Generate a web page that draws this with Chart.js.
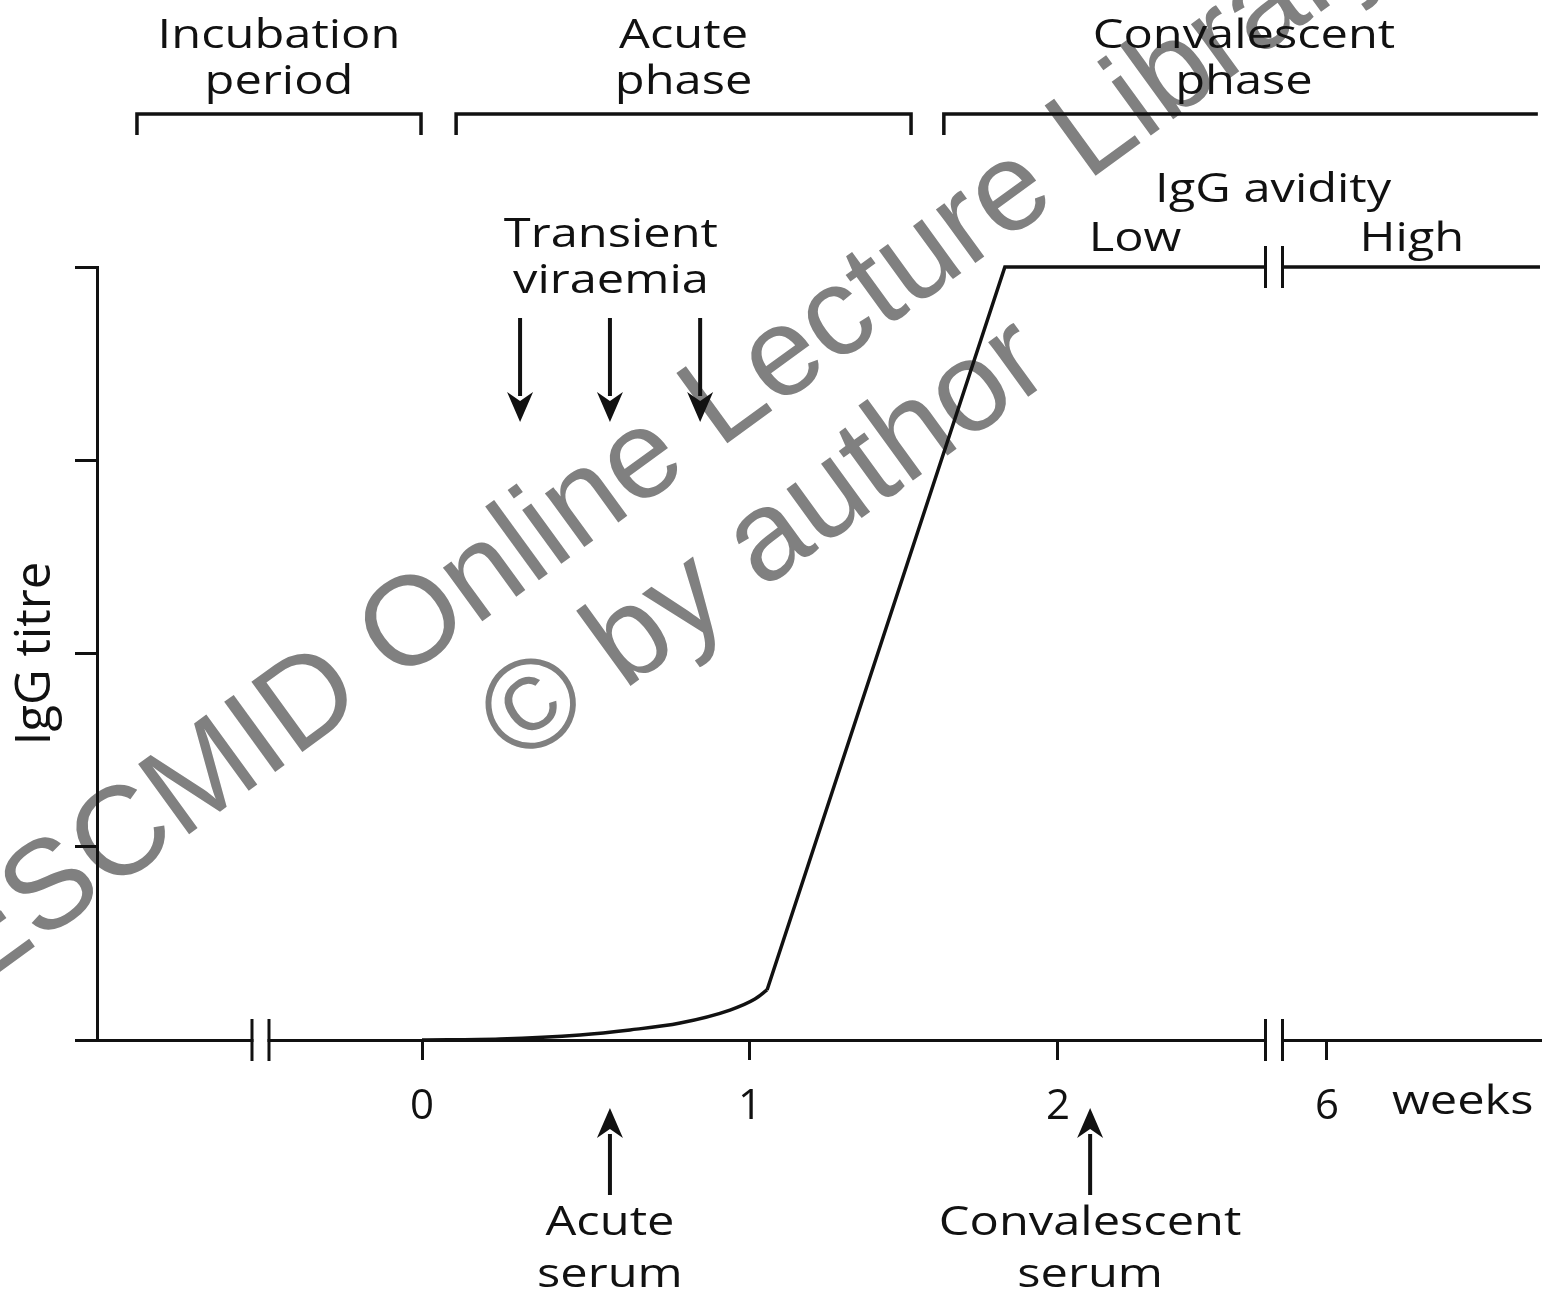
<!DOCTYPE html>
<html>
<head>
<meta charset="utf-8">
<script src="https://cdn.jsdelivr.net/npm/chart.js@4.4.1/dist/chart.umd.min.js"></script>
<style>
  html, body { margin: 0; padding: 0; background: #fff; }
  #wrap { width: 1552px; height: 1303px; }
</style>
</head>
<body>
<div id="wrap"><canvas id="c" width="1552" height="1303"></canvas></div>
<script>
// ---------------- data ----------------
// x axis is in schematic "axis units" (broken time axis); labels are weeks
const xTickPos    = [0, 1, 1.939, 2.759];
const xTickLabels = ['0', '1', '2', '6'];
const xUnitLabel  = 'weeks';
const yTicks      = [0, 1, 2, 3, 4];
const yTitle      = 'IgG titre';

// IgG titre curve: slow rise, then steep linear rise, then plateau
const riseX  = [0, 0.238, 0.482, 0.634, 0.787, 0.939, 1.015, 1.052];
const riseY  = [0, 0.005, 0.026, 0.052, 0.088, 0.155, 0.212, 0.259];
const steepX = [1.052, 1.777, 3.4085];
const steepY = [0.259, 4.0, 4.0];

// phases (brackets on top)
const phaseLabels = [['Incubation', 'period'], ['Acute', 'phase'], ['Convalescent', 'phase']];
const phaseStart  = [-0.869, 0.104, 1.591];
const phaseEnd    = [-0.003, 1.491, 3.402];
const phaseOpenEnd = [false, false, true];

// transient viraemia arrows
const viraemiaLabel  = ['Transient', 'viraemia'];
const viraemiaArrows = [0.299, 0.573, 0.848];

// serum samples (arrows up)
const serumLabels = [['Acute', 'serum'], ['Convalescent', 'serum']];
const serumX      = [0.573, 2.037];

// avidity
const avidityTitle  = 'IgG avidity';
const avidityLabels = ['Low', 'High'];
const avidityX      = [2.174, 3.018];
const avidityTitleX = 2.595;
const viraemiaLabelX = 0.576;

// axis breaks
const axisBreaks = [-0.4924, 2.5976];
const plateauBreaks = [2.5976];

const watermark = ['ESCMID Online Lecture Library', '\u00A9 by author'];

// ---------------- drawing helpers ----------------
const FONT = '"Open Sans", "DejaVu Sans", sans-serif';
const SX = 1.22;
function txt(ctx, s, x, y, size, align) {
  ctx.save();
  ctx.translate(x, y);
  ctx.scale(SX, 1);
  ctx.font = size + 'px ' + FONT;
  ctx.fillStyle = '#111';
  ctx.textAlign = align || 'center';
  ctx.textBaseline = 'alphabetic';
  ctx.fillText(s, 0, 0);
  ctx.restore();
}
function line(ctx, x1, y1, x2, y2, w) {
  ctx.beginPath();
  ctx.moveTo(x1, y1); ctx.lineTo(x2, y2);
  ctx.lineWidth = w || 3;
  ctx.strokeStyle = '#111';
  ctx.lineCap = 'butt';
  ctx.stroke();
}
function arrow(ctx, x, yTail, yTip) {
  const dir = yTip > yTail ? 1 : -1;
  const headLen = 30, headW = 13;
  line(ctx, x, yTail, x, yTip - dir * (headLen - 4), 4);
  ctx.beginPath();
  ctx.moveTo(x, yTip);
  ctx.lineTo(x - headW, yTip - dir * headLen);
  ctx.lineTo(x, yTip - dir * (headLen - 9));
  ctx.lineTo(x + headW, yTip - dir * headLen);
  ctx.closePath();
  ctx.fillStyle = '#111';
  ctx.fill();
}
function breakMark(ctx, xc, yc, halfH) {
  ctx.fillStyle = '#fff';
  ctx.fillRect(xc - 7, yc - 4, 14, 8);
  line(ctx, xc - 8.5, yc - halfH, xc - 8.5, yc + halfH, 3);
  line(ctx, xc + 8.5, yc - halfH, xc + 8.5, yc + halfH, 3);
}

const bgPlugin = {
  id: 'bg',
  beforeDraw(chart) {
    const ctx = chart.ctx;
    ctx.save();
    ctx.fillStyle = '#fff';
    ctx.fillRect(0, 0, chart.width, chart.height);
    // watermark
    ctx.fillStyle = '#808080';
    ctx.textAlign = 'center';
    ctx.textBaseline = 'alphabetic';
    const ang = -36 * Math.PI / 180;
    const centers = [[685, 474], [787, 572]];
    const sizes = [126, 128];
    watermark.forEach((s, i) => {
      ctx.save();
      ctx.font = sizes[i] + 'px "Liberation Sans", Arial, sans-serif';
      ctx.translate(centers[i][0], centers[i][1]);
      ctx.rotate(ang);
      ctx.fillText(s, 0, 0);
      ctx.restore();
    });
    ctx.restore();
  }
};

const annotPlugin = {
  id: 'annot',
  afterDraw(chart) {
    const ctx = chart.ctx;
    const xs = chart.scales.x, ys = chart.scales.y;
    const px = v => xs.getPixelForValue(v);
    ctx.save();

    // phase brackets
    const by = 114, bd = 135;
    phaseLabels.forEach((lab, i) => {
      const a = px(phaseStart[i]), b = px(phaseEnd[i]);
      ctx.beginPath();
      ctx.moveTo(a, bd); ctx.lineTo(a, by); ctx.lineTo(b, by);
      if (!phaseOpenEnd[i]) ctx.lineTo(b, bd);
      ctx.lineWidth = 3.5; ctx.strokeStyle = '#111'; ctx.lineJoin = 'miter';
      ctx.stroke();
      const cx = i === 2 ? px(2.506) : (a + b) / 2;
      txt(ctx, lab[0], cx, 48, 40);
      txt(ctx, lab[1], cx, 94, 40);
    });

    // transient viraemia
    txt(ctx, viraemiaLabel[0], px(viraemiaLabelX), 247, 40);
    txt(ctx, viraemiaLabel[1], px(viraemiaLabelX), 293, 40);
    viraemiaArrows.forEach(v => arrow(ctx, px(v), 318, 422));

    // avidity
    txt(ctx, avidityTitle, px(avidityTitleX), 202, 40);
    avidityLabels.forEach((s, i) => txt(ctx, s, px(avidityX[i]), 251, 40));

    // breaks
    const y0 = ys.getPixelForValue(0), y4 = ys.getPixelForValue(4);
    axisBreaks.forEach(v => breakMark(ctx, px(v), y0, 21));
    plateauBreaks.forEach(v => breakMark(ctx, px(v), y4, 21));

    // serum arrows
    serumLabels.forEach((lab, i) => {
      arrow(ctx, px(serumX[i]), 1195, 1108);
      txt(ctx, lab[0], px(serumX[i]), 1235, 40);
      txt(ctx, lab[1], px(serumX[i]), 1287, 40);
    });

    // x unit label
    txt(ctx, xUnitLabel, 1392, 1114, 40, 'left');

    // y title
    ctx.save();
    ctx.translate(50, ys.getPixelForValue(2));
    ctx.rotate(-Math.PI / 2);
    ctx.font = '49px ' + FONT;
    ctx.fillStyle = '#111';
    ctx.textAlign = 'center';
    ctx.textBaseline = 'alphabetic';
    ctx.fillText(yTitle, 0, 0);
    ctx.restore();

    ctx.restore();
  }
};

const ctx = document.getElementById('c').getContext('2d');
new Chart(ctx, {
  type: 'line',
  data: {
    datasets: [
      {
        data: riseX.map((x, i) => ({ x, y: riseY[i] })),
        borderColor: '#111', borderWidth: 3.5, pointRadius: 0,
        cubicInterpolationMode: 'monotone', fill: false, clip: false
      },
      {
        data: steepX.map((x, i) => ({ x, y: steepY[i] })),
        borderColor: '#111', borderWidth: 3.5, pointRadius: 0,
        tension: 0, fill: false, clip: false
      }
    ]
  },
  options: {
    responsive: false,
    animation: false,
    devicePixelRatio: 1,
    layout: { padding: { top: 267, right: 12, left: 0, bottom: 0 } },
    plugins: { legend: { display: false }, tooltip: { enabled: false } },
    scales: {
      x: {
        type: 'linear',
        min: (97 - 422) / 328,
        max: (1540 - 422) / 328,
        afterBuildTicks: s => { s.ticks = xTickPos.map(v => ({ value: v })); },
        afterFit: s => { s.height = 263; },
        ticks: {
          autoSkip: false, maxRotation: 0, padding: 22,
          callback: (v, i) => xTickLabels[i],
          font: { family: FONT, size: 42 }, color: '#111'
        },
        grid: { drawOnChartArea: false, drawTicks: true, tickLength: 20, color: '#111', lineWidth: 3 },
        border: { display: true, color: '#111', width: 3 }
      },
      y: {
        type: 'linear', min: 0, max: 4,
        afterBuildTicks: s => { s.ticks = yTicks.map(v => ({ value: v })); },
        afterFit: s => { s.width = 97; },
        ticks: { callback: () => '', padding: 0 },
        grid: { drawOnChartArea: false, drawTicks: true, tickLength: 22, color: '#111', lineWidth: 3 },
        border: { display: true, color: '#111', width: 3 }
      }
    }
  },
  plugins: [bgPlugin, annotPlugin]
});
</script>
</body>
</html>
